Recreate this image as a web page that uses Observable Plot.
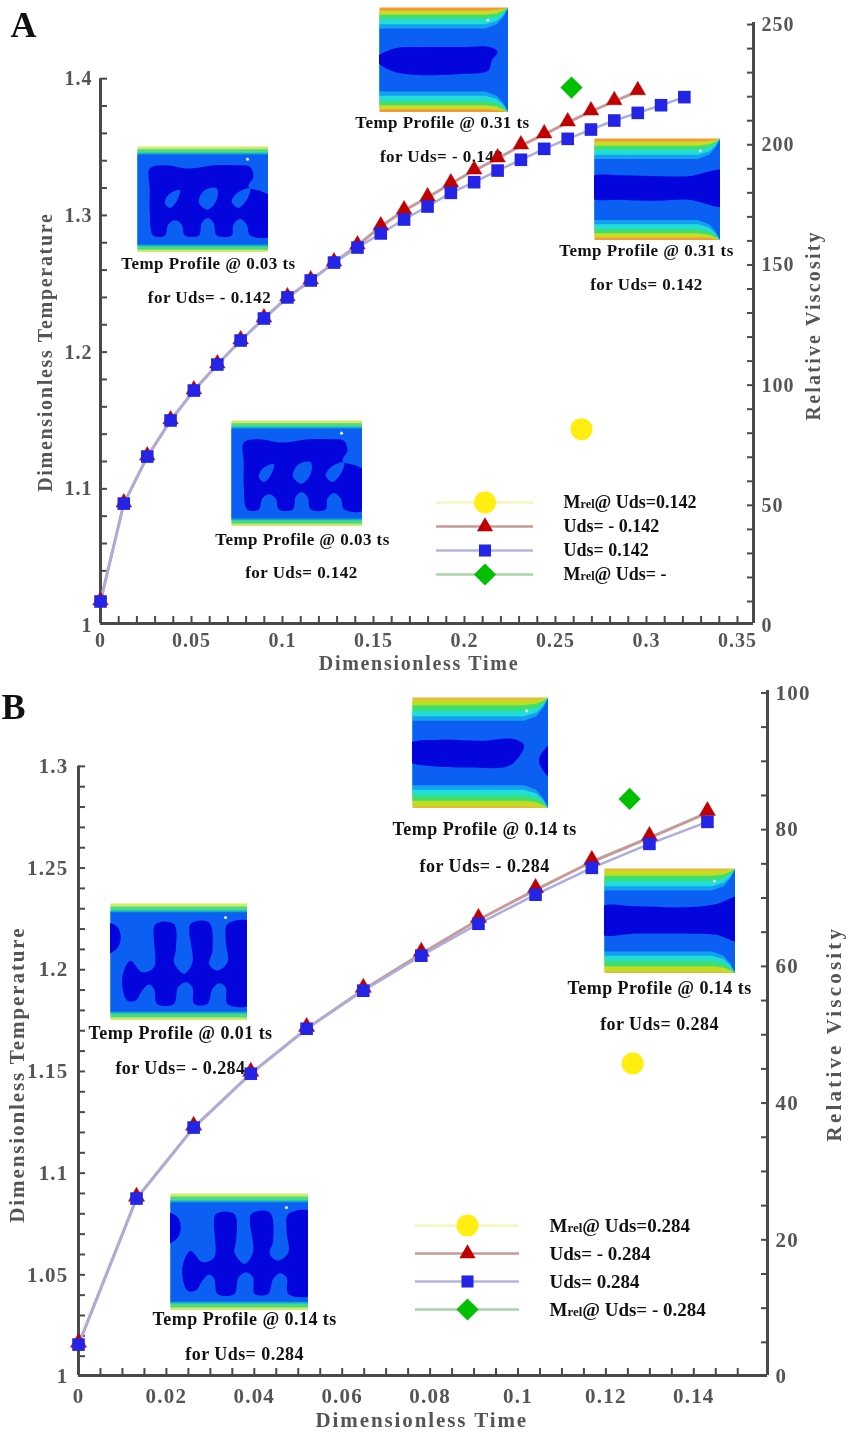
<!DOCTYPE html>
<html>
<head>
<meta charset="utf-8">
<script src="https://cdn.jsdelivr.net/npm/d3@7"></script>
<script src="https://cdn.jsdelivr.net/npm/@observablehq/plot@0.6"></script>
<style>
html,body{margin:0;padding:0;background:#fff}
#page{position:relative;width:848px;height:1432px;overflow:hidden;background:#fff}
#page svg{position:absolute;overflow:visible}
#page svg.inset{overflow:hidden}
</style>
</head>
<body>
<div id="page"></div>
<script>
// ---------- Panel A data ----------
const timeA = [0,.0128,.0257,.0385,.0513,.0642,.077,.0898,.1027,.1155,.1283,.1412,.154,.1668,.1797,.1925,.2053,.2182,.231,.2438,.2567,.2695,.2823,.2952,.308,.3208];
const tempNegA = [1.0176,1.0892,1.1236,1.15,1.1719,1.1909,1.2085,1.2246,1.24,1.2524,1.2655,1.278,1.2919,1.3036,1.3131,1.3233,1.3328,1.3416,1.3511,1.3592,1.368,1.376,1.3835,1.3908];
const tempPosA = [1.0176,1.0892,1.1236,1.15,1.1719,1.1909,1.2085,1.2246,1.24,1.2524,1.2655,1.2765,1.2868,1.297,1.3065,1.3165,1.3243,1.3328,1.3407,1.3487,1.356,1.3628,1.3694,1.375,1.3806,1.3865];
const mrelA = [{t:.2643,m:81.7,k:"pos"},{t:.2588,m:223.8,k:"neg"}];
const labelsA = [
  ["Temp Profile @ 0.03 ts",.0593,1.2648],["for Uds= - 0.142",.0599,1.24],
  ["Temp Profile @ 0.31 ts",.1879,1.368],["for Uds= - 0.142",.1874,1.3431],
  ["Temp Profile @ 0.31 ts",.3,1.2743],["for Uds= 0.142",.3,1.2494],
  ["Temp Profile @ 0.03 ts",.111,1.0629],["for Uds= 0.142",.1104,1.0388]];
const legendA = ["Mrel@ Uds=0.142","Uds= - 0.142","Uds= 0.142","Mrel@ Uds= -"];

// ---------- Panel B data ----------
const timeB = [0,.0132,.0262,.0392,.0519,.0648,.078,.091,.104,.1168,.1299,.1431];
const tempNegB = [1.0157,1.0875,1.1224,1.1489,1.171,1.1902,1.2079,1.2246,1.2393,1.2531,1.2649,1.2771];
const tempPosB = [1.0157,1.0875,1.1224,1.1489,1.171,1.1897,1.2069,1.2226,1.2369,1.2501,1.2619,1.2727];
const mrelB = [{t:.1261,m:45.8,k:"pos"},{t:.1254,m:84.5,k:"neg"}];
const labelsB = [
  ["Temp Profile @ 0.01 ts",.0232,1.169],["for Uds= - 0.284",.0232,1.1514],
  ["Temp Profile @ 0.14 ts",.0924,1.2693],["for Uds= - 0.284",.0924,1.2511],
  ["Temp Profile @ 0.14 ts",.1322,1.1907],["for Uds= 0.284",.1322,1.173],
  ["Temp Profile @ 0.14 ts",.0378,1.028],["for Uds= 0.284",.0378,1.0108]];
const legendB = ["Mrel@ Uds=0.284","Uds= - 0.284","Uds= 0.284","Mrel@ Uds= - 0.284"];

// ---------- Inset contour shapes (units 0-100) ----------
const DARK = "#0404dc", MID = "#0b5ff2";
const earlyBands = [[2.5,"#48dc80"],[6,"#12a8d8"],[7.5,MID]];
const lateBandsA = [[3,"#c9dc22"],[7,"#3ce070"],[11,"#22dcd8"],[16,"#14a0f0"],[20,MID]];
const lateBandsB = [[2,"#c4dc20"],[7,"#3ce070"],[12,"#22dcd8"],[17,"#14a0f0"],[21,MID]];
const blobEarlyA = [[9.4,20.8],[20.9,17.7],[38.8,20.8],[59.2,17.7],[74.5,17.7],[86,19.3],[88.5,28.6],[84.7,37.9],[94.9,42.5],[103,48.8],[103,83.9],[86,83.9],[83.4,73.6],[78.3,68.3],[73.2,73.6],[71.9,83.9],[60.5,83.9],[58,72],[53.6,67.4],[49,72],[46.9,83.9],[36.2,83.9],[33.7,73.6],[28.6,69.6],[23.5,73.6],[20.9,83.9],[12,83.9],[9.4,62.7],[9.4,41]];
const holesEarlyA = [
  [[32.4,41],[29.8,51.9],[24.7,58],[20.9,53.4],[23.5,45.7]],
  [[60.5,39.4],[60.5,50.3],[53.6,59.6],[47,53.4],[49,44],[54.6,39.4]],
  [[86,39.4],[83.4,50.3],[77,58],[71.9,51.9],[75.8,44]]];
const blobEarlyB = [[9.8,57.4],[14.6,48.9],[23.2,58.8],[31.7,54.5],[32.9,17.6],[46.3,17.6],[47.6,40.3],[46.3,50.3],[53.7,60.2],[59.8,50.3],[58.5,17.6],[72,16.2],[74.4,40.3],[72,51.7],[78,57.4],[85.4,50.3],[84.1,31.8],[85.4,17.6],[103,16.2],[103,85.8],[85.4,85.8],[84.1,71.6],[79.3,68.2],[74.4,73],[70.7,85.8],[61,85.8],[59.8,71.6],[54.9,67.3],[49.3,71.6],[46.3,85.8],[34.1,85.8],[31.7,73],[28,69.3],[23.2,74.4],[18.3,83],[12.2,83],[8.5,68.8]];
const blobEarlyBLeft = [[-3,17],[5,20],[7.5,29],[5,38],[-3,43]];
const blobLateA2 = [[-3,48.9],[10.9,39.3],[36.7,37.7],[62.5,37.7],[85.8,37.7],[91.5,42.5],[87,50.5],[84.5,60],[62.5,63.3],[23.8,63.9],[5.7,58.5]];
const blobLateA3 = [[-3,38],[20,36],[50,37],[75,37],[104,32],[104,66],[75,60],[50,61],[20,60],[-3,58]];
const blobLateB2 = [[-3,42],[20,38],[50,39],[75,37.5],[82,43],[78,54],[70,62],[40,63],[15,62],[-3,57]];
const blobLateB2Right = [[104,40],[95,50],[93,57],[96,66],[104,74]];
const blobLateB3 = [[-3,37],[25,36],[60,37],[85,34],[104,27],[104,69],[85,63],[60,62],[25,62],[-3,62]];
const speck = [[84,12]];

const insetKinds = {
  earlyA:{bg:"#d6e868",bands:earlyBands,curved:false,dark:[blobEarlyA],light:holesEarlyA},
  earlyB:{bg:"#d6e868",bands:earlyBands,curved:false,dark:[blobEarlyB,blobEarlyBLeft],light:[]},
  lateA2:{bg:"#f49b35",bands:lateBandsA,curved:true,dark:[blobLateA2],light:[]},
  lateA3:{bg:"#f49b35",bands:lateBandsA,curved:true,dark:[blobLateA3],light:[]},
  lateB2:{bg:"#e8b83c",bands:lateBandsB,curved:true,dark:[blobLateB2,blobLateB2Right],light:[]},
  lateB3:{bg:"#e8b83c",bands:lateBandsB,curved:true,dark:[blobLateB3],light:[]}
};
// inset placement on the page: kind, left, top, right, bottom
const insetPlacement = [
  ["earlyA",137,146,268,252],["lateA2",379,7,508,112],["lateA3",594,138,720,240],["earlyA",231,420,362,526],
  ["earlyB",110,903,247,1020],["lateB2",412,697,548,808],["lateB3",604,868,735,973],["earlyB",170,1193,308,1310]
];

const FONT = "'Liberation Serif','Times New Roman',serif";
const AXIS = "#4a4a4a", TICKTXT = "#555";
const page = document.getElementById("page");
const place = (el,left,top,blur) => {
  el.style.left = left+"px"; el.style.top = top+"px";
  if (blur) el.style.filter = `blur(${blur}px)`;
  page.appendChild(el); return el;
};
const range = (a,b,s) => d3.range(Math.round((b-a)/s)+1).map(i=>+(a+i*s).toFixed(4));
const rows = (xs,ys) => ys.map((y,i)=>({t:xs[i],y}));

function panel(c){
  const toLeft = d3.scaleLinear(c.rightRef,c.leftRef);
  const neg = rows(c.time,c.tempNeg), pos = rows(c.time,c.tempPos);
  const axisText = {fontSize:c.tickFont,fontWeight:"bold",color:TICKTXT,tickSize:0,label:null};
  const minor = {tickSize:-7,text:null,label:null,color:AXIS,strokeWidth:2};
  const title = {fontSize:c.titleFont,fontWeight:"bold",fill:TICKTXT,textAnchor:"middle",lineAnchor:"middle"};
  const marks = [
    Plot.ruleY([c.yDomain[0]],{stroke:AXIS,strokeWidth:3}),
    Plot.ruleX([0],{y1:c.yDomain[0],y2:c.leftTop,stroke:AXIS,strokeWidth:3}),
    Plot.ruleX([c.xDomain[1]],{stroke:AXIS,strokeWidth:3}),
    Plot.axisX(c.xMinor,{anchor:"bottom",...minor}),
    Plot.axisY(c.yMinor,{anchor:"left",...minor}),
    Plot.axisY(c.rMinor,{anchor:"right",y:toLeft,...minor}),
    Plot.axisX(c.xTicks,{anchor:"bottom",...axisText,tickPadding:c.xPad,tickFormat:d=>String(d)}),
    Plot.axisY(c.yTicks,{anchor:"left",...axisText,tickPadding:c.yPad,tickFormat:d=>String(d)}),
    Plot.axisY(c.rTicks,{anchor:"right",y:toLeft,...axisText,tickPadding:8,tickFormat:d=>String(d)}),
    Plot.text(["Dimensionless Time"],{frameAnchor:"bottom",x:c.xTitle,dy:c.xTitleDy,...title}),
    Plot.text(["Dimensionless Temperature"],{frameAnchor:"left",y:c.yTitle,dx:c.yTitleDx,rotate:-90,...title}),
    Plot.text(["Relative Viscosity"],{frameAnchor:"right",y:c.rTitle,dx:c.rTitleDx,rotate:-90,...title}),
    Plot.text(c.labels,{x:d=>d[1],y:d=>d[2],text:d=>d[0],fontSize:c.noteFont,fontWeight:"bold",fill:"#111"}),
    Plot.text([c.letter],{frameAnchor:"top-left",dx:c.letterDx,dy:c.letterDy,fontSize:36,fontWeight:"bold",fill:"#111",textAnchor:"start"}),
    Plot.line(neg,{x:"t",y:"y",stroke:"#c79a9a",strokeWidth:3}),
    Plot.line(pos,{x:"t",y:"y",stroke:"#acacde",strokeWidth:2.5}),
    Plot.dot(neg,{x:"t",y:"y",symbol:"triangle",r:c.triR,fill:"#c00000",stroke:"#c00000",strokeWidth:.5,dy:-c.triDy}),
    Plot.dot(pos,{x:"t",y:"y",symbol:"square",r:7.1,fill:"#2424e6"}),
    Plot.dot(c.mrel.filter(d=>d.k==="pos"),{x:"t",y:d=>toLeft(d.m),r:11,fill:"#ffee10"}),
    Plot.dot(c.mrel.filter(d=>d.k==="neg"),{x:"t",y:d=>toLeft(d.m),symbol:"diamond2",r:10,fill:"#00c000"})
  ];
  const svg = Plot.plot({
    width:848,height:c.height,marginLeft:c.left,marginRight:848-c.right,marginTop:c.top,marginBottom:c.bottom,
    style:{fontFamily:FONT,background:"transparent"},
    x:{domain:c.xDomain,axis:null},y:{domain:c.yDomain,axis:null},
    marks
  });
  d3.select(svg).selectAll("text").each(function(){
    const t = this.textContent, s = d3.select(this);
    if (t.startsWith("Dimensionless")) s.style("letter-spacing",c.titleGap+"px");
    else if (t.startsWith("Relative")) s.style("letter-spacing",c.rGap+"px");
    else if (t.startsWith("Temp") || t.startsWith("for")) s.style("letter-spacing",".45px");
    else if (/^[0-9.]+$/.test(t)) s.style("letter-spacing",c.tickGap+"px");
  });
  place(svg,0,c.pageTop,.45);
}

function legend(c){
  const series = [
    {label:c.names[0],line:"#f6f6bc",symbol:"circle",fill:"#ffee10",r:11},
    {label:c.names[1],line:"#c79a9a",symbol:"triangle",fill:"#c00000",r:6},
    {label:c.names[2],line:"#b4b4de",symbol:"square",fill:"#2424e6",r:6.8},
    {label:c.names[3],line:"#a8d4a8",symbol:"diamond2",fill:"#00c000",r:10}
  ];
  const svg = Plot.plot({
    width:c.w,height:c.h,margin:0,
    style:{fontFamily:FONT,background:"transparent",overflow:"visible"},
    x:{domain:[0,c.w],range:[0,c.w],axis:null},
    y:{type:"point",domain:c.names,range:[c.first,c.last],padding:0,axis:null},
    marks:[
      Plot.ruleY(series,{y:"label",x1:0,x2:c.lineW,stroke:"line",strokeWidth:2.5}),
      ...series.map(s=>Plot.dot([s],{x:()=>c.lineW/2,y:"label",symbol:s.symbol,r:s.r,fill:s.fill})),
      Plot.text(series,{x:()=>c.textX,y:"label",text:"label",textAnchor:"start",fontSize:c.font,fontWeight:"bold",fill:"#111"})
    ]
  });
  d3.select(svg).selectAll("text").each(function(){
    const t = this.textContent;
    if (!t.startsWith("Mrel")) return;
    const sel = d3.select(this); sel.text(null);
    sel.append("tspan").text("M");
    sel.append("tspan").attr("font-size",c.font*.68).text("rel");
    sel.append("tspan").text(t.slice(4));
  });
  place(svg,c.x,c.y,.3);
}

function inset(kind,l,t,r,b){
  const k = insetKinds[kind];
  const fillShape = (pts,fill,curve) => Plot.line(pts,{x:d=>d[0],y:d=>d[1],fill,stroke:"none",curve});
  const bandPoly = ([d,color]) => fillShape(k.curved
    ? [[0,d],[82,d],[91,d*.8],[96,d*.45],[100,0],[100,100],[96,100-d*.45],[91,100-d*.8],[82,100-d],[0,100-d]]
    : [[0,d],[100,d],[100,100-d],[0,100-d]], color, "linear");
  const svg = Plot.plot({
    width:r-l,height:b-t,margin:0,
    style:{background:"transparent"},
    x:{domain:[0,100],axis:null},y:{domain:[100,0],axis:null},
    marks:[
      Plot.frame({fill:k.bg,stroke:null}),
      ...k.bands.map(bandPoly),
      ...k.dark.map(p=>fillShape(p,DARK,"catmull-rom-closed")),
      ...k.light.map(p=>fillShape(p,MID,"catmull-rom-closed")),
      Plot.dot(speck,{x:d=>d[0],y:d=>d[1],r:1.6,fill:"#cfe6f5"})
    ]
  });
  svg.classList.add("inset");
  place(svg,l,t,.7);
}

panel({
  letter:"A",letterDx:-90,letterDy:-11,pageTop:0,height:660,left:100,right:753,top:22,bottom:37,
  xDomain:[0,.3588],yDomain:[1.0015,1.4411],leftTop:1.4,
  leftRef:[1,1.4396],rightRef:[0,250],
  time:timeA,tempNeg:tempNegA,tempPos:tempPosA,mrel:mrelA,labels:labelsA,
  xTicks:[0,.05,.1,.15,.2,.25,.3,.35],xMinor:range(.01,.35,.01),
  yTicks:[1,1.1,1.2,1.3,1.4],yMinor:range(1.02,1.4,.02),
  rTicks:[0,50,100,150,200,250],rMinor:range(10,250,10),
  xPad:9,yPad:8,tickFont:20,tickGap:1,titleFont:20,titleGap:1.7,rGap:2.2,noteFont:17,triR:5.8,triDy:1,
  xTitle:.175,xTitleDy:40,yTitle:1.2,yTitleDx:-55,rTitle:1.2196,rTitleDx:60
});
panel({
  letter:"B",letterDx:-77,letterDy:3,pageTop:660,height:772,left:78,right:767,top:30,bottom:57,
  xDomain:[0,.15677],yDomain:[1.0005,1.3373],leftTop:1.3,
  leftRef:[1,1.3361],rightRef:[0,100],
  time:timeB,tempNeg:tempNegB,tempPos:tempPosB,mrel:mrelB,labels:labelsB,
  xTicks:[0,.02,.04,.06,.08,.1,.12,.14],xMinor:range(.005,.15,.005),
  yTicks:[1,1.05,1.1,1.15,1.2,1.25,1.3],yMinor:range(1.01,1.3,.01),
  rTicks:[0,20,40,60,80,100],rMinor:range(5,100,5),
  xPad:13,yPad:10,tickFont:21,tickGap:1.2,titleFont:21,titleGap:1.9,rGap:3.2,noteFont:18,triR:6,triDy:2,
  xTitle:.0781,xTitleDy:45,yTitle:1.1484,yTitleDx:-61,rTitle:1.1686,rTitleDx:67
});
legend({names:legendA,x:436,y:480,w:290,h:110,lineW:97,textX:127,first:20.5,last:95,font:18});
legend({names:legendB,x:415,y:1205,w:310,h:120,lineW:104,textX:134,first:20,last:104,font:19});
insetPlacement.forEach(p=>inset(...p));
</script>
</body>
</html>
